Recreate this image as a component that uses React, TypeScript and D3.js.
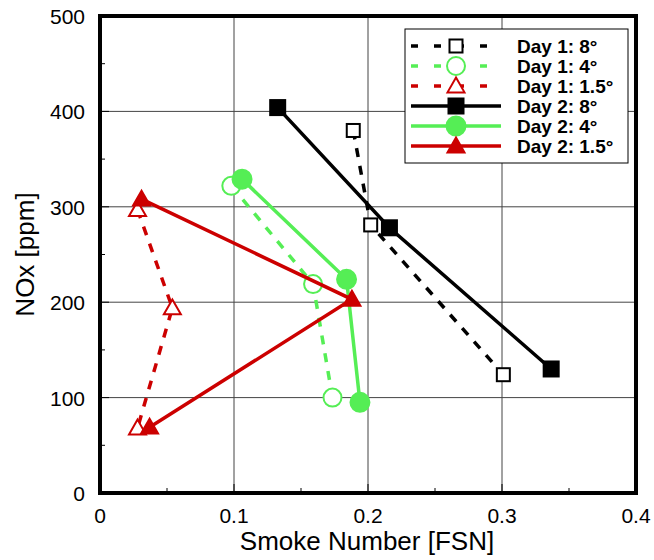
import React from "react";
import * as d3 from "d3";

const seriesNames = ["Day 1: 8°", "Day 1: 4°", "Day 1: 1.5°", "Day 2: 8°", "Day 2: 4°", "Day 2: 1.5°"];
const day1_8_x = [0.189, 0.202, 0.301];
const day1_8_y = [380, 281, 124];
const day1_4_x = [0.098, 0.159, 0.1735];
const day1_4_y = [322, 219, 100];
const day1_15_x = [0.028, 0.054, 0.028];
const day1_15_y = [297, 194, 68];
const day2_8_x = [0.1326, 0.216, 0.3367];
const day2_8_y = [404, 278, 130];
const day2_4_x = [0.106, 0.184, 0.194];
const day2_4_y = [329, 224, 95];
const day2_15_x = [0.031, 0.188, 0.037];
const day2_15_y = [308, 203, 69];
const xTicks = [0, 0.1, 0.2, 0.3, 0.4];
const yTicks = [0, 100, 200, 300, 400, 500];

const GREEN = "#55ee55";
const RED = "#cc0000";

type S = { name: string; xs: number[]; ys: number[]; color: string; marker: string; filled: boolean; dashed: boolean };
const series: S[] = [
  { name: seriesNames[0], xs: day1_8_x, ys: day1_8_y, color: "#000", marker: "square", filled: false, dashed: true },
  { name: seriesNames[1], xs: day1_4_x, ys: day1_4_y, color: GREEN, marker: "circle", filled: false, dashed: true },
  { name: seriesNames[2], xs: day1_15_x, ys: day1_15_y, color: RED, marker: "triangle", filled: false, dashed: true },
  { name: seriesNames[3], xs: day2_8_x, ys: day2_8_y, color: "#000", marker: "square", filled: true, dashed: false },
  { name: seriesNames[4], xs: day2_4_x, ys: day2_4_y, color: GREEN, marker: "circle", filled: true, dashed: false },
  { name: seriesNames[5], xs: day2_15_x, ys: day2_15_y, color: RED, marker: "triangle", filled: true, dashed: false },
];

const L = 100, R = 636, T = 16, B = 493;
const x = d3.scaleLinear().domain([0, 0.4]).range([L, R]);
const y = d3.scaleLinear().domain([0, 500]).range([B, T]);

function Marker({ s, cx, cy }: { s: S; cx: number; cy: number }) {
  const fill = s.filled ? s.color : "#fff";
  const sw = 2;
  if (s.marker === "square") {
    const h = s.filled ? 7.5 : 6.5;
    return <rect x={cx - h} y={cy - h} width={2 * h} height={2 * h} fill={fill} stroke={s.color} strokeWidth={sw} />;
  }
  if (s.marker === "circle") {
    return <circle cx={cx} cy={cy} r={s.filled ? 9.5 : 9} fill={fill} stroke={s.color} strokeWidth={sw} />;
  }
  const h = 8.5;
  const pts = `${cx},${cy - h} ${cx + h},${cy + h * 0.75} ${cx - h},${cy + h * 0.75}`;
  return <polygon points={pts} fill={fill} stroke={s.color} strokeWidth={sw} strokeLinejoin="miter" />;
}

export default function App() {
  const line = d3.line<[number, number]>().x((d) => x(d[0])).y((d) => y(d[1]));
  const xMinor = d3.range(0, 0.4001, 0.05);
  const yMinor = d3.range(0, 500.1, 50);
  return (
    <svg width={654} height={560} style={{ display: "block", position: "absolute", left: 0, top: 0 }} fontFamily="Liberation Sans, Arial, sans-serif">
      <rect width={654} height={560} fill="#fff" />
      {xTicks.slice(1, -1).map((t) => (
        <line key={"gx" + t} x1={x(t)} x2={x(t)} y1={T} y2={B} stroke="#444" strokeWidth={1} />
      ))}
      {yTicks.slice(1, -1).map((t) => (
        <line key={"gy" + t} x1={L} x2={R} y1={y(t)} y2={y(t)} stroke="#444" strokeWidth={1} />
      ))}
      {xMinor.map((t) => (
        <line key={"mx" + t} x1={x(t)} x2={x(t)} y1={B} y2={B - (Math.round(t * 100) % 10 === 0 ? 9 : 5)} stroke="#000" strokeWidth={1} />
      ))}
      {yMinor.map((t) => (
        <line key={"my" + t} x1={L} x2={L + (t % 100 === 0 ? 9 : 5)} y1={y(t)} y2={y(t)} stroke="#000" strokeWidth={1} />
      ))}
      {series.map((s) => {
        const pts = s.xs.map((v, i) => [v, s.ys[i]] as [number, number]);
        return (
          <g key={s.name}>
            <path d={line(pts) || ""} fill="none" stroke={s.color} strokeWidth={3.5} strokeDasharray={s.dashed ? "9,9" : undefined} />
            {pts.map((p, i) => (
              <Marker key={i} s={s} cx={x(p[0])} cy={y(p[1])} />
            ))}
          </g>
        );
      })}
      <rect x={L} y={T} width={R - L} height={B - T} fill="none" stroke="#000" strokeWidth={4} />
      {xTicks.map((t) => (
        <text key={"xt" + t} x={x(t)} y={B + 30} textAnchor="middle" fontSize={21}>{t === 0 ? "0" : String(t)}</text>
      ))}
      {yTicks.map((t) => (
        <text key={"yt" + t} x={L - 15} y={y(t) + 8} textAnchor="end" fontSize={21}>{t}</text>
      ))}
      <text x={(L + R) / 2 - 1} y={550} textAnchor="middle" fontSize={26}>Smoke Number [FSN]</text>
      <text transform={`translate(34,${(T + B) / 2}) rotate(-90)`} textAnchor="middle" fontSize={26}>NOx [ppm]</text>
      <g>
        <rect x={405} y={29} width={223} height={134} fill="#fff" stroke="#000" strokeWidth={1} />
        {series.map((s, i) => {
          const cy = 46 + i * 20;
          return (
            <g key={"lg" + s.name}>
              <line x1={411} x2={501} y1={cy} y2={cy} stroke={s.color} strokeWidth={3.5} strokeDasharray={s.dashed ? "7,16" : undefined} />
              <Marker s={s} cx={456} cy={cy} />
              <text x={517} y={cy + 7} fontSize={19} fontWeight="bold">{s.name}</text>
            </g>
          );
        })}
      </g>
    </svg>
  );
}
